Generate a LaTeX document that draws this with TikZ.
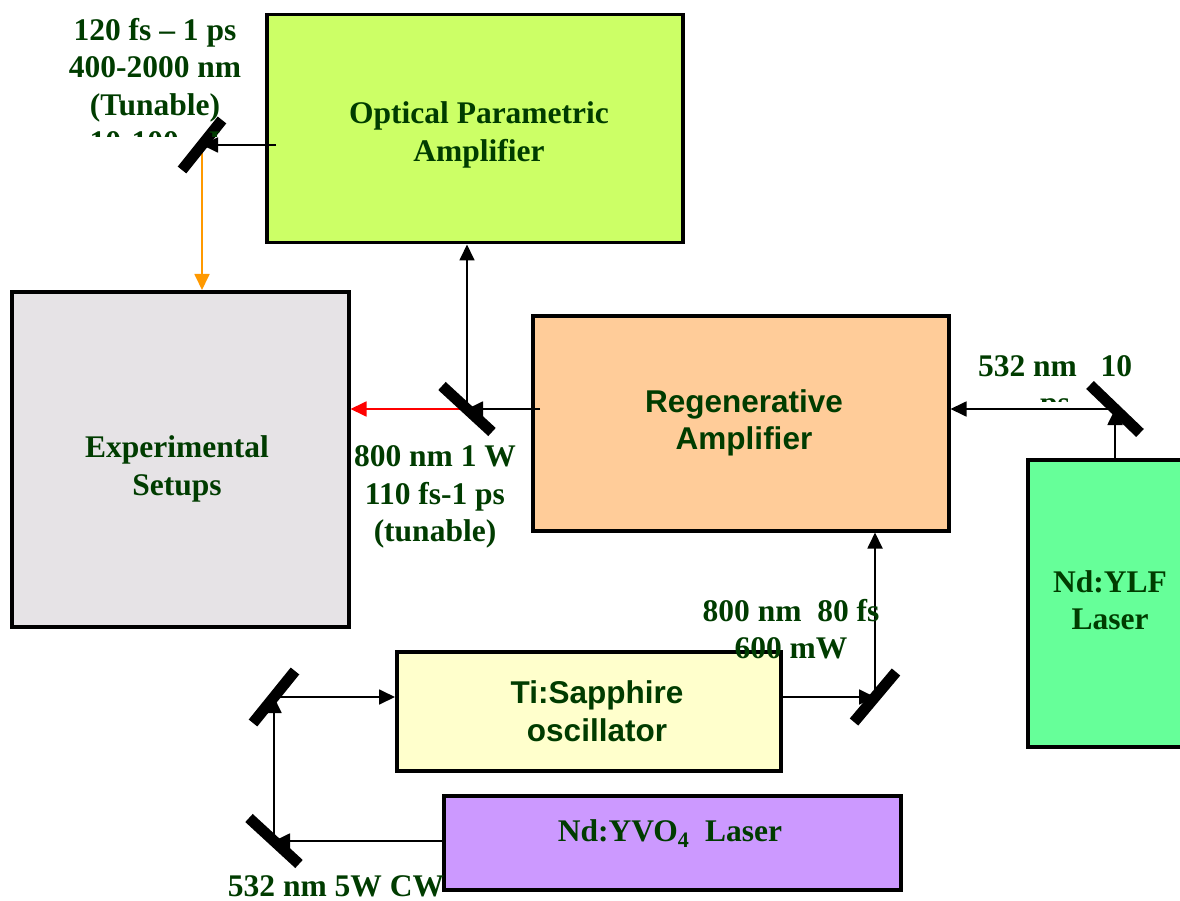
\documentclass[tikz,border=0pt]{standalone}
\usepackage{fontspec}
\setmainfont{Liberation Serif}
\setsansfont{Liberation Sans}
\usetikzlibrary{arrows.meta,calc}
\definecolor{txt}{RGB}{0,60,0}
\definecolor{opacol}{RGB}{204,255,102}
\definecolor{expcol}{RGB}{230,227,230}
\definecolor{regcol}{RGB}{255,204,153}
\definecolor{ylfcol}{RGB}{102,255,153}
\definecolor{ticol}{RGB}{255,255,204}
\definecolor{yvocol}{RGB}{204,153,255}
\definecolor{orangebeam}{RGB}{255,153,0}
\begin{document}
\begin{tikzpicture}[x=1pt,y=-1pt,
  box/.style={draw=black, line width=3.5pt, inner sep=0pt, anchor=north west},
  lbl/.style={font=\fontsize{31.5}{37.5}\selectfont\bfseries, text=txt, align=center, inner sep=0pt},
  slbl/.style={lbl, font=\fontsize{31.5}{37.5}\selectfont\bfseries\sffamily},
  beam/.style={line width=1.8pt, -{Triangle[length=16pt,width=15pt]}},
  mirror/.style={line width=11pt}]
\useasboundingbox (0,0) rectangle (1180,901);
\clip (0,0) rectangle (1180,901);
% boxes
\node[box, fill=opacol, minimum width=416pt, minimum height=228pt] (opa) at (265,13) {};
\node[lbl] (topa) at (479,135) {Optical Parametric\\Amplifier};
\node[box, fill=expcol, minimum width=337pt, minimum height=335pt] (exp) at (10,290) {};
\node[lbl] (texp) at (177,469) {Experimental\\Setups};
\node[box, fill=regcol, minimum width=416pt, minimum height=215pt] (reg) at (531,314) {};
\node[slbl] (treg) at (744,423) {Regenerative\\Amplifier};
\node[box, fill=ylfcol, minimum width=170pt, minimum height=287pt] (ylf) at (1026,458) {};
\node[lbl] (tylf) at (1110,600) {Nd:YLF\\Laser};
\node[box, fill=ticol, minimum width=384pt, minimum height=119pt] (ti) at (395,650) {};
\node[slbl] (tti) at (597,711) {Ti:Sapphire\\oscillator};
\node[box, fill=yvocol, minimum width=457pt, minimum height=94pt] (yvo) at (442,794) {};
\node[lbl] (tyvo) at (670,834) {Nd:YVO\textsubscript{4}\ \ Laser};
% mirror positions
\coordinate (m1) at (202,145);
\coordinate (m2) at (467,409);
\coordinate (m3) at (1115,409);
\coordinate (m4) at (875,697);
\coordinate (m5) at (274,697);
\coordinate (m6) at (274,841);
\coordinate (opaout) at (276,145);
\coordinate (regout) at (540,409);
% connectors
\draw[beam] (opaout) -- (m1);
\draw[beam, orangebeam] (m1) -- (m1 |- exp.north);
\draw[beam] (regout) -- (m2);
\draw[beam, red] (m2) -- (exp.east |- m2);
\draw[beam] (m2) -- (m2 |- opa.south);
\draw[beam] (m3 |- ylf.north) -- (m3);
\draw[beam] (m3) -- (reg.east |- m3);
\draw[beam] (ti.east |- m4) -- (m4);
\draw[beam] (m4) -- (m4 |- reg.south);
\draw[beam] (yvo.west |- m6) -- (m6);
\draw[beam] (m6) -- (m5);
\draw[beam] (m5) -- (ti.west |- m5);
% mirrors
\draw[mirror] ($(m1)+(-20,25)$) -- ($(m1)+(20,-25)$);
\draw[mirror] ($(m2)+(-25,-23)$) -- ($(m2)+(25,23)$);
\draw[mirror] ($(m3)+(-25,-24)$) -- ($(m3)+(25,24)$);
\draw[mirror] ($(m4)+(-21,25)$) -- ($(m4)+(21,-25)$);
\draw[mirror] ($(m5)+(-21,26)$) -- ($(m5)+(21,-26)$);
\draw[mirror] ($(m6)+(-25,-23)$) -- ($(m6)+(25,23)$);
% labels
\begin{scope}
\clip (0,0) rectangle (260,137);
\node[lbl] (l1) at (155,89) {120 fs – 1 ps\\400-2000 nm\\(Tunable)\\10-100 μJ};
\end{scope}
\node[lbl] (l2) at (435,497) {800 nm 1 W\\110 fs-1 ps\\(tunable)};
\begin{scope}
\clip (950,330) rectangle (1180,401);
\node[lbl] (l3) at (1055,388) {532 nm\ \ \ 10\\ps};
\end{scope}
\node[lbl] (l4) at (791,629) {800 nm\ \ 80 fs\\600 mW};
\node[lbl] (l5) at (336,886) {532 nm 5W CW};
\end{tikzpicture}
\end{document}
